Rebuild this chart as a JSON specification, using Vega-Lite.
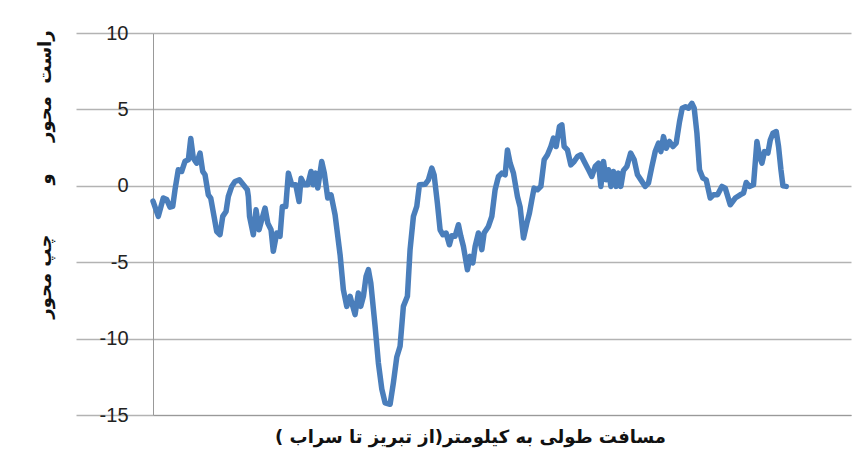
{
  "$schema": "https://vega.github.io/schema/vega-lite/v6.json",
  "autosize": "none",
  "padding": {"left": 153, "top": 33, "right": 6, "bottom": 58},
  "width": 698,
  "height": 382,
  "background": "#ffffff",
  "config": {"view": {"stroke": null}},
  "data": {"values": [
    {"km": 0, "v": -1.0}, {"km": 0.84, "v": -2.0}, {"km": 1.63, "v": -0.8}, {"km": 2.17, "v": -0.9}, {"km": 2.69, "v": -1.4},
    {"km": 3.12, "v": -1.35}, {"km": 3.48, "v": -0.26}, {"km": 4.0, "v": 1.05}, {"km": 4.54, "v": 0.94}, {"km": 5.06, "v": 1.6},
    {"km": 5.59, "v": 1.7}, {"km": 5.97, "v": 3.1}, {"km": 6.38, "v": 1.8}, {"km": 6.91, "v": 1.48}, {"km": 7.44, "v": 2.14},
    {"km": 7.86, "v": 0.94}, {"km": 8.23, "v": 0.72}, {"km": 8.75, "v": -0.59}, {"km": 9.13, "v": -0.8}, {"km": 9.65, "v": -2.0},
    {"km": 10.08, "v": -2.99}, {"km": 10.6, "v": -3.2}, {"km": 11.03, "v": -2.0}, {"km": 11.55, "v": -1.68}, {"km": 11.91, "v": -0.7},
    {"km": 12.45, "v": -0.04}, {"km": 12.97, "v": 0.28}, {"km": 13.66, "v": 0.39}, {"km": 14.29, "v": 0.07}, {"km": 14.92, "v": -0.26},
    {"km": 15.08, "v": -0.7}, {"km": 15.27, "v": -2.0}, {"km": 15.87, "v": -3.2}, {"km": 16.3, "v": -1.57}, {"km": 16.77, "v": -2.88},
    {"km": 17.2, "v": -2.22}, {"km": 17.72, "v": -1.46}, {"km": 18.15, "v": -2.44}, {"km": 18.67, "v": -2.88}, {"km": 19.03, "v": -4.29},
    {"km": 19.57, "v": -3.09}, {"km": 20.09, "v": -3.3}, {"km": 20.46, "v": -1.35}, {"km": 21.0, "v": -1.35}, {"km": 21.41, "v": 0.83},
    {"km": 21.95, "v": 0.07}, {"km": 22.58, "v": 0.07}, {"km": 23.1, "v": -1.03}, {"km": 23.42, "v": 0.5}, {"km": 23.94, "v": 0.07},
    {"km": 24.48, "v": 0.07}, {"km": 25.0, "v": 0.94}, {"km": 25.36, "v": 0.07}, {"km": 25.74, "v": 0.83}, {"km": 26.06, "v": -0.15},
    {"km": 26.69, "v": 1.59}, {"km": 27.1, "v": 0.83}, {"km": 27.64, "v": -0.8}, {"km": 28.16, "v": -0.59}, {"km": 28.8, "v": -1.9},
    {"km": 29.59, "v": -4.5}, {"km": 30.11, "v": -6.8}, {"km": 30.65, "v": -7.89}, {"km": 31.17, "v": -7.23}, {"km": 31.6, "v": -7.89},
    {"km": 31.96, "v": -8.43}, {"km": 32.48, "v": -7.01}, {"km": 32.86, "v": -7.89}, {"km": 33.28, "v": -7.23}, {"km": 33.7, "v": -5.93},
    {"km": 34.07, "v": -5.49}, {"km": 34.45, "v": -6.36}, {"km": 35.13, "v": -9.2}, {"km": 35.65, "v": -11.6}, {"km": 36.19, "v": -13.3},
    {"km": 36.71, "v": -14.2}, {"km": 37.5, "v": -14.3}, {"km": 38.02, "v": -12.9}, {"km": 38.56, "v": -11.2}, {"km": 39.08, "v": -10.5},
    {"km": 39.6, "v": -7.89}, {"km": 40.24, "v": -7.23}, {"km": 40.66, "v": -4.18}, {"km": 41.19, "v": -2.0}, {"km": 41.72, "v": -1.35},
    {"km": 42.14, "v": 0.07}, {"km": 43.04, "v": 0.1}, {"km": 43.56, "v": 0.39}, {"km": 44.1, "v": 1.16}, {"km": 44.46, "v": 0.72},
    {"km": 44.98, "v": -1.13}, {"km": 45.41, "v": -2.88}, {"km": 45.84, "v": -3.2}, {"km": 46.36, "v": -3.09}, {"km": 46.88, "v": -3.86},
    {"km": 47.26, "v": -3.27}, {"km": 47.78, "v": -3.3}, {"km": 48.31, "v": -2.55}, {"km": 48.69, "v": -3.3}, {"km": 49.1, "v": -3.97},
    {"km": 49.73, "v": -5.49}, {"km": 50.16, "v": -4.62}, {"km": 50.59, "v": -5.05}, {"km": 50.95, "v": -3.97}, {"km": 51.47, "v": -3.09},
    {"km": 52.01, "v": -4.18}, {"km": 52.37, "v": -3.09}, {"km": 53.05, "v": -2.66}, {"km": 53.59, "v": -2.0}, {"km": 54.11, "v": -0.26},
    {"km": 54.64, "v": 0.61}, {"km": 55.17, "v": 0.83}, {"km": 55.7, "v": 0.72}, {"km": 56.06, "v": 2.35}, {"km": 56.49, "v": 1.48},
    {"km": 57.01, "v": 0.83}, {"km": 57.64, "v": -0.7}, {"km": 58.07, "v": -1.4}, {"km": 58.6, "v": -3.42}, {"km": 59.13, "v": -2.44},
    {"km": 59.54, "v": -1.78}, {"km": 59.92, "v": -0.92}, {"km": 60.28, "v": -0.15}, {"km": 60.81, "v": -0.26}, {"km": 61.35, "v": -0.04},
    {"km": 61.87, "v": 1.7}, {"km": 62.39, "v": 2.03}, {"km": 62.93, "v": 2.57}, {"km": 63.34, "v": 3.12}, {"km": 63.77, "v": 2.57},
    {"km": 64.29, "v": 3.88}, {"km": 64.67, "v": 3.99}, {"km": 65.03, "v": 2.57}, {"km": 65.55, "v": 2.35}, {"km": 66.09, "v": 1.37},
    {"km": 66.61, "v": 1.59}, {"km": 67.14, "v": 1.92}, {"km": 67.67, "v": 2.03}, {"km": 68.2, "v": 1.59}, {"km": 68.88, "v": 1.05},
    {"km": 69.41, "v": 0.61}, {"km": 69.94, "v": 1.26}, {"km": 70.46, "v": 1.48}, {"km": 70.84, "v": -0.04}, {"km": 71.25, "v": 1.59},
    {"km": 71.68, "v": 0.39}, {"km": 72.04, "v": 1.05}, {"km": 72.42, "v": -0.04}, {"km": 72.83, "v": 0.94}, {"km": 73.26, "v": -0.04},
    {"km": 73.62, "v": 0.83}, {"km": 74.0, "v": -0.04}, {"km": 74.41, "v": 1.0}, {"km": 74.95, "v": 1.26}, {"km": 75.55, "v": 2.14},
    {"km": 76.11, "v": 1.7}, {"km": 76.63, "v": 0.72}, {"km": 77.17, "v": 0.39}, {"km": 77.85, "v": -0.04}, {"km": 78.37, "v": 0.18},
    {"km": 78.91, "v": 1.26}, {"km": 79.43, "v": 2.24}, {"km": 79.95, "v": 2.79}, {"km": 80.33, "v": 2.24}, {"km": 80.74, "v": 3.22},
    {"km": 81.17, "v": 2.46}, {"km": 81.69, "v": 2.9}, {"km": 82.23, "v": 2.57}, {"km": 82.75, "v": 2.79}, {"km": 83.28, "v": 4.2},
    {"km": 83.7, "v": 5.08}, {"km": 84.22, "v": 5.18}, {"km": 84.7, "v": 5.08}, {"km": 85.24, "v": 5.4}, {"km": 85.6, "v": 5.08},
    {"km": 86.03, "v": 3.44}, {"km": 86.44, "v": 1.05}, {"km": 86.98, "v": 0.5}, {"km": 87.5, "v": 0.39}, {"km": 88.13, "v": -0.8},
    {"km": 88.66, "v": -0.59}, {"km": 89.29, "v": -0.59}, {"km": 89.98, "v": -0.04}, {"km": 90.51, "v": -0.15}, {"km": 91.3, "v": -1.24},
    {"km": 92.09, "v": -0.8}, {"km": 92.88, "v": -0.59}, {"km": 93.4, "v": -0.48}, {"km": 93.83, "v": 0.22}, {"km": 94.35, "v": -0.04},
    {"km": 94.98, "v": 0.07}, {"km": 95.52, "v": 2.9}, {"km": 95.93, "v": 1.92}, {"km": 96.31, "v": 1.48}, {"km": 96.72, "v": 2.24},
    {"km": 97.26, "v": 2.14}, {"km": 97.63, "v": 3.0}, {"km": 98.05, "v": 3.44}, {"km": 98.58, "v": 3.55}, {"km": 98.94, "v": 2.57},
    {"km": 99.32, "v": 1.05}, {"km": 99.64, "v": 0.0}, {"km": 100.16, "v": -0.04}
  ]},
  "mark": {"type": "line", "color": "#4a7ebb", "strokeWidth": 5.5, "strokeJoin": "round", "strokeCap": "round"},
  "encoding": {
    "x": {
      "field": "km", "type": "quantitative",
      "scale": {"domain": [0, 110.4], "nice": false, "zero": false},
      "axis": {
        "labels": false, "ticks": false, "grid": false,
        "domainColor": "#999999", "domainWidth": 1,
        "title": "مسافت طولی به  کیلومتر(از تبریز تا سراب )",
        "titleFont": "DejaVu Sans", "titleFontSize": 18, "titleFontWeight": "bold", "titleColor": "#111111",
        "titleX": 317, "titleY": 22, "titleAlign": "center", "titleBaseline": "middle"
      }
    },
    "y": {
      "field": "v", "type": "quantitative",
      "scale": {"domain": [-15, 10], "nice": false, "zero": false},
      "axis": {
        "values": [-15, -10, -5, 0, 5, 10],
        "labelExpr": "'' + datum.value",
        "grid": true, "gridColor": "#b3b3b3", "gridWidth": 1.5,
        "tickSize": 77, "tickColor": "#b3b3b3", "tickWidth": 1.5,
        "labelPadding": -52, "labelFont": "Liberation Sans", "labelFontSize": 20, "labelColor": "#222222",
        "domainColor": "#999999", "domainWidth": 1,
        "title": "راست\u00a0\u00a0محور\u00a0\u00a0\u00a0\u00a0\u00a0و\u00a0\u00a0\u00a0\u00a0\u00a0\u00a0\u00a0\u00a0چپ محور",
        "titleFont": "DejaVu Sans", "titleFontSize": 18, "titleFontWeight": "bold", "titleColor": "#111111",
        "titleAngle": -90, "titleX": -108, "titleY": 141, "titleAlign": "center", "titleBaseline": "middle"
      }
    }
  }
}
